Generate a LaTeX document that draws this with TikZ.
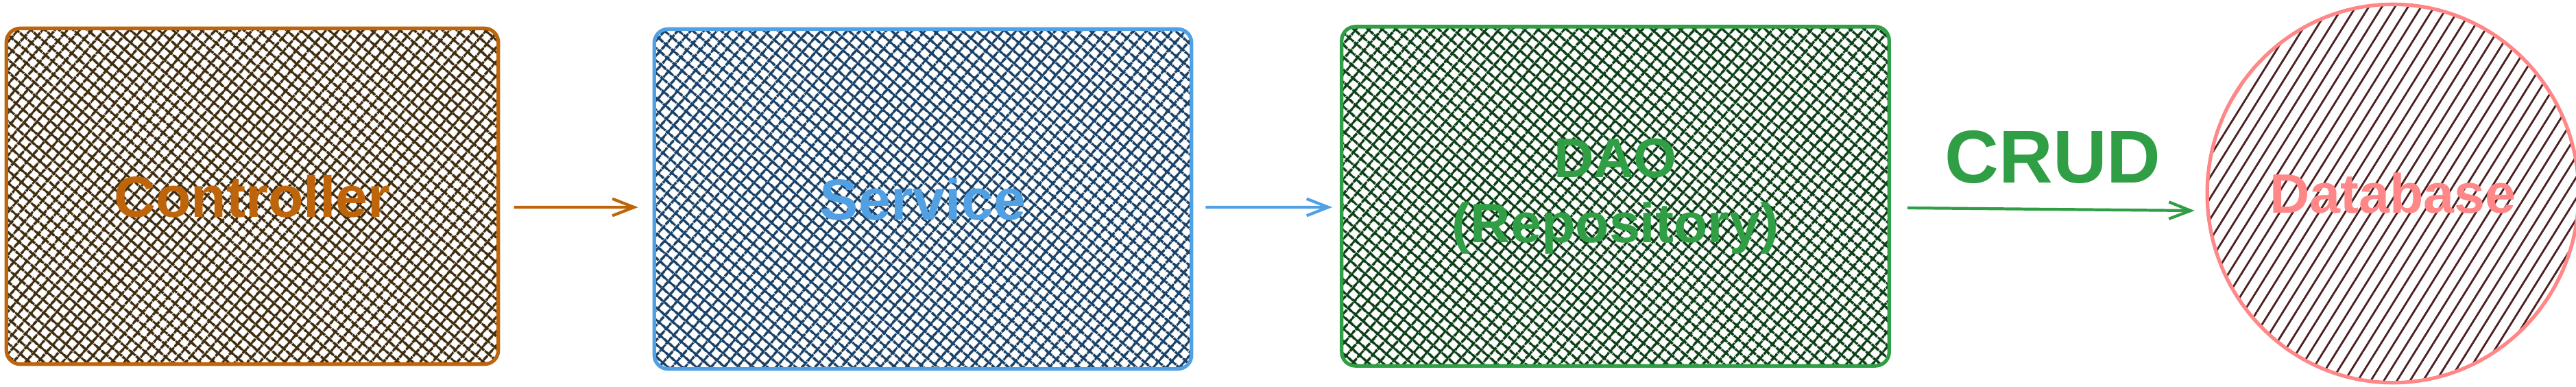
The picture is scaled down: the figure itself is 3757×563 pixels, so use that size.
\documentclass[tikz,border=0pt]{standalone}
\usepackage{fontspec}
\setmainfont{Liberation Sans}
\usetikzlibrary{arrows.meta,patterns.meta,shapes.geometric}

\definecolor{ctrlline}{RGB}{190,101,12}
\definecolor{ctrlhatch}{RGB}{62,43,14}
\definecolor{svcline}{RGB}{82,160,228}
\definecolor{svchatch}{RGB}{24,64,102}
\definecolor{daoline}{RGB}{47,158,68}
\definecolor{daohatch}{RGB}{12,62,22}
\definecolor{dbline}{RGB}{255,135,135}
\definecolor{dbhatch}{RGB}{76,32,32}

\begin{document}
\begin{tikzpicture}[x=0.01cm,y=-0.01cm,
    tier/.style={rectangle,rounded corners=0.2cm,line width=1.5pt,
      font=\fontsize{24}{27}\selectfont\bfseries,align=center,
      preaction={pattern color=#1,pattern={Lines[angle=49,distance=4pt,line width=1.1pt]}},
      pattern color=#1,pattern={Lines[angle=-41,distance=4pt,line width=1.1pt]}},
    store/.style={ellipse,line width=1.5pt,font=\fontsize{23}{27}\selectfont\bfseries,
      pattern color=#1,pattern={Lines[angle=58,distance=4.6pt,line width=0.8pt]}},
    flow/.style={line width=1.2pt,-{Straight Barb[length=9pt,width=7pt]}}]
  \useasboundingbox (0,0) rectangle (3757,563);

  % the three layers
  \node[tier=ctrlhatch,draw=ctrlline,text=ctrlline,
    minimum width=7.17cm,minimum height=4.89cm] (ctrl) at (368,286) {Controller};
  \node[tier=svchatch,draw=svcline,text=svcline,
    minimum width=7.83cm,minimum height=4.95cm] (svc) at (1346,290) {Service};
  \node[tier=daohatch,draw=daoline,text=daoline,font=\fontsize{23}{27}\selectfont\bfseries,
    minimum width=7.98cm,minimum height=4.94cm] (dao) at (2356,286) {DAO\\(Repository)};

  % storage
  \node[store=dbhatch,draw=dbline,text=dbline,
    minimum width=5.23cm,minimum height=5.51cm] (db) at (3490,282) {Database};

  \draw[flow,ctrlline] ([shift={(0.21cm,-0.16cm)}]ctrl.east) -- ([shift={(-0.21cm,-0.12cm)}]svc.west);
  \draw[flow,svcline] ([shift={(0.18cm,-0.12cm)}]svc.east) -- ([shift={(-0.11cm,-0.16cm)}]dao.west);
  \draw[flow,daoline] ([shift={(0.24cm,-0.17cm)}]dao.east) -- ([shift={(-0.17cm,-0.25cm)}]db.west);
  \node[text=daoline,font=\fontsize{31}{36}\selectfont\bfseries] (crud) at (2994,229) {CRUD};
\end{tikzpicture}
\end{document}
